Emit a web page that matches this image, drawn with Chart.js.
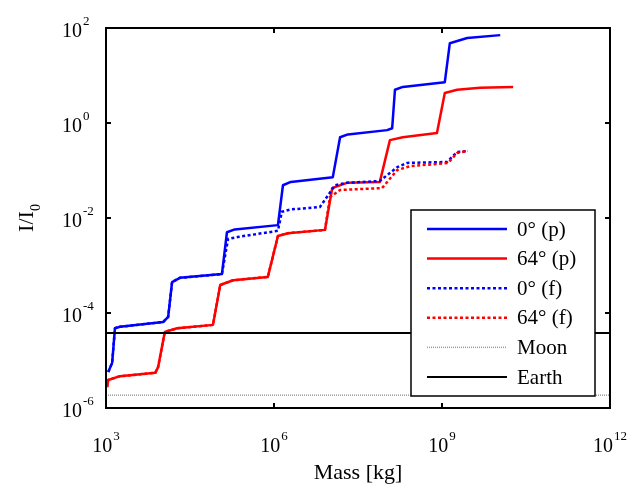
<!DOCTYPE html>
<html>
<head>
<meta charset="utf-8">
<script src="https://cdn.jsdelivr.net/npm/chart.js@4.4.0/dist/chart.umd.min.js"></script>
<style>
  html, body { margin: 0; padding: 0; background: #fff; }
</style>
</head>
<body>
<canvas id="chart" width="641" height="486"></canvas>
<script>
// Values, as log10(mass [kg]) and log10(I/I0)
const blueSolidLogM = [3.04, 3.11, 3.16, 3.25, 4.02, 4.11, 4.18, 4.32, 5.07, 5.16, 5.30, 6.07, 6.16, 6.30, 7.05, 7.18, 7.32, 8.02, 8.11, 8.16, 8.30, 9.05, 9.14, 9.45, 10.04];
const blueSolidLogI = [-5.24, -5.05, -4.32, -4.29, -4.19, -4.08, -3.35, -3.26, -3.18, -2.30, -2.24, -2.15, -1.31, -1.24, -1.14, -0.30, -0.24, -0.15, -0.11, 0.70, 0.76, 0.86, 1.68, 1.79, 1.85];

const redSolidLogM = [3.02, 3.04, 3.25, 3.88, 3.93, 4.05, 4.27, 4.91, 5.04, 5.27, 5.89, 6.07, 6.25, 6.91, 7.04, 7.30, 7.89, 8.07, 8.30, 8.91, 9.05, 9.27, 9.68, 10.27];
const redSolidLogI = [-5.56, -5.41, -5.33, -5.26, -5.14, -4.40, -4.32, -4.25, -3.41, -3.31, -3.24, -2.38, -2.32, -2.25, -1.37, -1.26, -1.24, -0.36, -0.30, -0.21, 0.63, 0.70, 0.74, 0.76];

const blueDotLogM = [3.04, 3.11, 3.16, 3.25, 4.02, 4.11, 4.18, 4.32, 5.07, 5.18, 5.35, 6.07, 6.14, 6.30, 6.82, 7.09, 7.30, 7.89, 8.20, 8.38, 9.09, 9.27, 9.46];
const blueDotLogI = [-5.24, -5.05, -4.32, -4.29, -4.19, -4.08, -3.35, -3.26, -3.18, -2.44, -2.40, -2.27, -1.87, -1.82, -1.77, -1.31, -1.26, -1.22, -0.93, -0.84, -0.82, -0.61, -0.59];

const redDotLogM = [3.02, 3.04, 3.25, 3.88, 3.93, 4.05, 4.27, 4.91, 5.04, 5.27, 5.89, 6.07, 6.25, 6.91, 7.00, 7.18, 7.93, 8.20, 8.43, 9.11, 9.27, 9.46];
const redDotLogI = [-5.56, -5.41, -5.33, -5.26, -5.14, -4.40, -4.32, -4.25, -3.41, -3.31, -3.24, -2.38, -2.32, -2.25, -1.56, -1.41, -1.37, -0.99, -0.91, -0.84, -0.63, -0.59];

const moonLogI = -5.73;
const earthLogI = -4.42;

const xTickExps = [3, 6, 9, 12];
const yTickExps = [2, 0, -2, -4, -6];
const seriesLabels = ['0\u00b0 (p)', '64\u00b0 (p)', '0\u00b0 (f)', '64\u00b0 (f)', 'Moon', 'Earth'];

function toPoints(logM, logI) {
    return logM.map((m, i) => ({ x: Math.pow(10, m), y: Math.pow(10, logI[i]) }));
}

function levelPoints(logI) {
    return [{ x: 1e3, y: Math.pow(10, logI) }, { x: 1e12, y: Math.pow(10, logI) }];
}

const serif = "'Liberation Serif', 'Times New Roman', serif";

// draw "10" with a raised exponent
function drawPow(ctx, exp, x, baseY, align) {
    ctx.font = '20px ' + serif;
    const wBase = ctx.measureText('10').width;
    ctx.font = '13px ' + serif;
    const wExp = ctx.measureText(String(exp)).width;
    let left = x;
    if (align === 'center') left = x - (wBase + wExp + 1) / 2;
    ctx.textAlign = 'left';
    ctx.textBaseline = 'alphabetic';
    ctx.font = '20px ' + serif;
    ctx.fillText('10', left, baseY);
    ctx.font = '13px ' + serif;
    ctx.fillText(String(exp), left + wBase + 1, baseY - 12);
}

const framePlugin = {
    id: 'frame',
    afterDatasetsDraw(chart) {
        const ctx = chart.ctx;
        const a = chart.chartArea;
        const xs = chart.scales.x, ys = chart.scales.y;
        ctx.save();

        // legend box inside the axes
        const lx = 411, ly = 210, lw = 184, lh = 186;
        ctx.fillStyle = '#fff';
        ctx.fillRect(lx, ly, lw, lh);
        ctx.strokeStyle = '#000';
        ctx.lineWidth = 1.5;
        ctx.strokeRect(lx, ly, lw, lh);
        seriesLabels.forEach((lab, row) => {
            const ds = chart.data.datasets.find(d => d.label === lab);
            const y = 229 + row * 29.6;
            ctx.beginPath();
            ctx.strokeStyle = ds.borderColor;
            ctx.lineWidth = ds.borderWidth;
            ctx.lineCap = 'butt';
            ctx.setLineDash(ds.borderDash || []);
            ctx.moveTo(427, y);
            ctx.lineTo(507, y);
            ctx.stroke();
            ctx.setLineDash([]);
            ctx.fillStyle = '#000';
            ctx.font = '21px ' + serif;
            ctx.textAlign = 'left';
            ctx.textBaseline = 'middle';
            ctx.fillText(ds.label, 517, y + 1);
        });

        // axes box and inward ticks
        ctx.strokeStyle = '#000';
        ctx.lineWidth = 2;
        ctx.strokeRect(a.left, a.top, a.right - a.left, a.bottom - a.top);
        ctx.beginPath();
        xTickExps.forEach(e => {
            const px = xs.getPixelForValue(Math.pow(10, e));
            ctx.moveTo(px, a.bottom); ctx.lineTo(px, a.bottom - 5);
            ctx.moveTo(px, a.top); ctx.lineTo(px, a.top + 5);
        });
        yTickExps.forEach(e => {
            const py = ys.getPixelForValue(Math.pow(10, e));
            ctx.moveTo(a.left, py); ctx.lineTo(a.left + 5, py);
            ctx.moveTo(a.right, py); ctx.lineTo(a.right - 5, py);
        });
        ctx.stroke();

        // tick labels
        ctx.fillStyle = '#000';
        xTickExps.forEach(e => {
            const px = xs.getPixelForValue(Math.pow(10, e));
            drawPow(ctx, e, px, a.bottom + 44, 'center');
        });
        yTickExps.forEach(e => {
            const py = ys.getPixelForValue(Math.pow(10, e));
            drawPow(ctx, e, 62, py + 9, 'left');
        });

        // axis titles
        ctx.font = '22px ' + serif;
        ctx.textAlign = 'center';
        ctx.textBaseline = 'alphabetic';
        ctx.fillText('Mass [kg]', (a.left + a.right) / 2, 479);

        ctx.translate(33, 218);
        ctx.rotate(-Math.PI / 2);
        ctx.font = '22px ' + serif;
        const wI = ctx.measureText('I/I').width;
        ctx.font = '14px ' + serif;
        const wSub = ctx.measureText('0').width;
        const start = -(wI + wSub) / 2;
        ctx.textAlign = 'left';
        ctx.font = '22px ' + serif;
        ctx.fillText('I/I', start, 0);
        ctx.font = '14px ' + serif;
        ctx.fillText('0', start + wI, 7);

        ctx.restore();
    }
};

new Chart(document.getElementById('chart'), {
    type: 'scatter',
    data: {
        datasets: [
            {
                label: seriesLabels[5],
                data: levelPoints(earthLogI),
                borderColor: '#000000',
                borderWidth: 2,
                order: 0
            },
            {
                label: seriesLabels[3],
                data: toPoints(redDotLogM, redDotLogI),
                borderColor: '#ff0000',
                borderWidth: 2.5,
                borderDash: [3, 2.5],
                order: 1
            },
            {
                label: seriesLabels[2],
                data: toPoints(blueDotLogM, blueDotLogI),
                borderColor: '#0000ff',
                borderWidth: 2.5,
                borderDash: [3, 2.5],
                order: 2
            },
            {
                label: seriesLabels[1],
                data: toPoints(redSolidLogM, redSolidLogI),
                borderColor: '#ff0000',
                borderWidth: 2.5,
                order: 3
            },
            {
                label: seriesLabels[0],
                data: toPoints(blueSolidLogM, blueSolidLogI),
                borderColor: '#0000ff',
                borderWidth: 2.5,
                order: 4
            },
            {
                label: seriesLabels[4],
                data: levelPoints(moonLogI),
                borderColor: '#9a9a9a',
                borderWidth: 1.5,
                borderDash: [1, 1],
                order: 5
            }
        ]
    },
    options: {
        responsive: false,
        animation: false,
        showLine: true,
        layout: { padding: { left: 106, right: 31, top: 28, bottom: 78 } },
        elements: {
            point: { radius: 0, hoverRadius: 0 },
            line: { tension: 0, borderJoinStyle: 'round', borderCapStyle: 'butt' }
        },
        scales: {
            x: { type: 'logarithmic', min: 1e3, max: 1e12, display: false },
            y: { type: 'logarithmic', min: 1e-6, max: 1e2, display: false }
        },
        plugins: {
            legend: { display: false },
            tooltip: { enabled: false }
        }
    },
    plugins: [framePlugin]
});
</script>
</body>
</html>
